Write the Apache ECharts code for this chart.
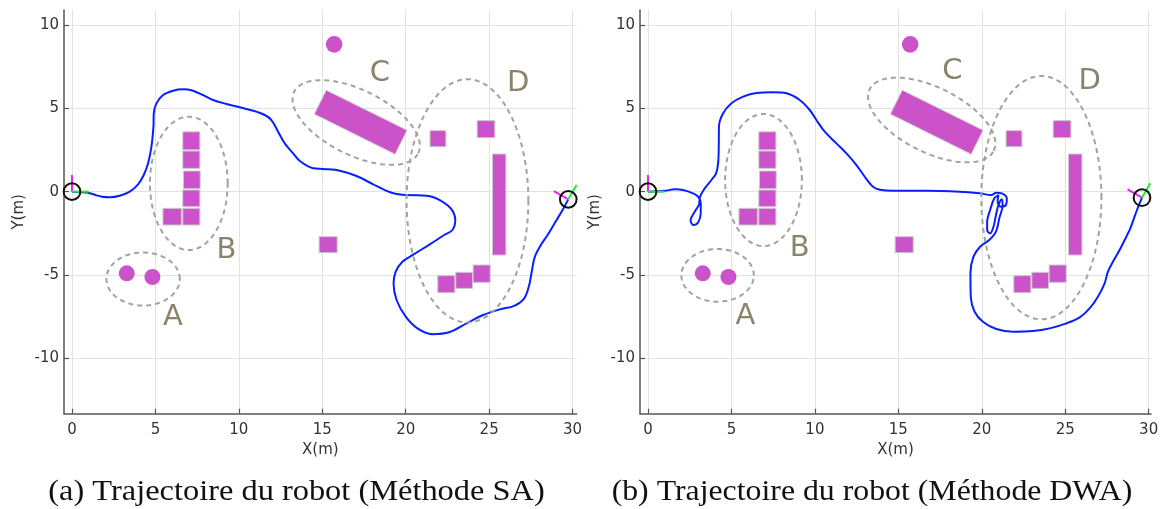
<!DOCTYPE html>
<html><head><meta charset="utf-8">
<script src="https://cdn.jsdelivr.net/npm/echarts@6/dist/echarts.min.js"></script>
<style>html,body{margin:0;padding:0;background:#fff}#c{width:1162px;height:509px}</style>
</head><body><div id="c"></div>
<script>
// ---------- data ----------
const xTicks = [0, 5, 10, 15, 20, 25, 30];
const yTicks = [-10, -5, 0, 5, 10];
const captions = ['(a) Trajectoire du robot (Méthode SA)', '(b) Trajectoire du robot (Méthode DWA)'];
const axisNames = ['X(m)', 'Y(m)'];

// rectangular obstacles: [cx, cy, width, height, angleDeg]
const rectObstacles = [
  [7.15, 3.05, 1.02, 1.08, 0], [7.15, 1.92, 1.02, 1.04, 0], [7.18, 0.71, 1.0, 1.06, 0],
  [7.15, -0.4, 1.02, 1.0, 0], [7.15, -1.5, 1.02, 1.0, 0], [6.0, -1.5, 1.1, 1.0, 0],
  [17.3, 4.17, 5.4, 1.6, -26.4],
  [21.93, 3.18, 0.95, 0.96, 0], [24.81, 3.75, 1.06, 1.02, 0], [25.6, -0.77, 0.8, 6.06, 0],
  [15.35, -3.18, 1.08, 0.96, 0],
  [22.43, -5.55, 1.02, 1.02, 0], [23.5, -5.32, 1.0, 0.96, 0], [24.55, -4.92, 1.02, 1.04, 0]
];
// circular obstacles: [cx, cy, r]
const circleObstacles = [[3.28, -4.9, 0.48], [4.82, -5.12, 0.48], [15.71, 8.84, 0.5]];

// annotation ellipses: [cx, cy, semiA, semiB, angleDeg]
const ellipsesSA = [[4.26, -5.24, 2.2, 1.59, 0], [7.0, 0.5, 2.33, 4.0, 0], [17.03, 4.15, 4.15, 1.95, -26.4], [23.7, -0.55, 3.65, 7.3, 0]];
const ellipsesDWA = [[4.17, -5.02, 2.17, 1.58, 0], [6.92, 0.7, 2.3, 3.96, 0], [17.0, 4.3, 4.15, 1.95, -26.4], [23.57, -0.36, 3.6, 7.3, 0]];
// annotation letters: [x, y, text]
const lettersSA = [[6.05, -7.54, 'A'], [9.26, -3.5, 'B'], [18.45, 7.1, 'C'], [26.74, 6.5, 'D']];
const lettersDWA = [[5.84, -7.46, 'A'], [9.09, -3.4, 'B'], [18.24, 7.2, 'C'], [26.46, 6.6, 'D']];

// robot poses: [x, y, headingDeg]
const posesSA = [[0, 0, 0], [29.74, -0.46, 60]];
const posesDWA = [[0, 0, 0], [29.6, -0.36, 60]];

const pathSA = [[0,0],[0.5,-0.03],[0.96,-0.06],[1.4,-0.2],[1.8,-0.3],[2.26,-0.33],[2.86,-0.24],[3.46,0],[3.96,0.44],[4.3,1.0],[4.56,1.7],[4.76,2.7],[4.88,3.9],[4.9,4.7],[5.06,5.3],[5.46,5.8],[6.06,6.06],[6.65,6.14],[7.25,6.06],[7.85,5.8],[8.45,5.5],[9.26,5.26],[10.05,5.06],[10.85,4.86],[11.55,4.6],[11.95,4.3],[12.35,3.6],[12.75,2.9],[13.25,2.3],[13.65,1.84],[14.45,1.4],[15.05,1.36],[16.05,1.26],[17.05,0.94],[18.05,0.44],[18.85,0.05],[19.45,-0.14],[20.05,-0.2],[20.8,-0.22],[21.45,-0.28],[22.04,-0.5],[22.54,-0.85],[22.84,-1.2],[22.97,-1.7],[22.8,-2.3],[22.3,-2.6],[21.85,-2.9],[21.3,-3.25],[20.5,-3.75],[19.8,-4.2],[19.4,-4.8],[19.27,-5.5],[19.45,-6.5],[20.0,-7.5],[20.7,-8.2],[21.6,-8.55],[22.64,-8.42],[23.64,-7.9],[24.64,-7.4],[25.64,-7.06],[26.5,-6.85],[27.1,-6.4],[27.4,-5.6],[27.55,-4.8],[27.74,-3.9],[28.1,-3.2],[28.5,-2.6],[29.04,-1.7],[29.4,-1.1],[29.74,-0.46]];

const pathDWA = [[0,0],[0.5,0.02],[1.0,0.05],[1.6,0.14],[2.1,0.1],[2.7,-0.1],[3.0,-0.3],[3.16,-0.7],[3.16,-1.3],[3.0,-1.85],[2.72,-2.0],[2.55,-1.72],[2.8,-1.2],[3.05,-0.8],[3.12,-0.3],[3.4,0.2],[3.8,0.7],[4.08,1.1],[4.2,1.7],[4.24,2.7],[4.25,3.9],[4.5,4.7],[5.0,5.3],[5.7,5.7],[6.5,5.92],[7.5,5.96],[8.3,5.9],[9.09,5.5],[9.69,4.9],[10.09,4.3],[10.59,3.6],[11.29,2.9],[11.89,2.3],[12.49,1.6],[13.09,0.75],[13.48,0.3],[13.9,0.12],[14.68,0.06],[16.68,0.06],[18.68,0.0],[19.87,-0.1],[20.57,-0.2],[20.87,-0.06],[21.2,-0.1],[21.5,-0.4],[21.45,-0.8],[21.15,-0.9],[20.95,-0.6],[21.0,-0.2],[20.75,-0.4],[20.5,-1.1],[20.32,-1.8],[20.32,-2.3],[20.5,-2.5],[20.7,-2.1],[20.85,-1.4],[21.0,-0.8],[21.2,-0.45],[21.25,-0.8],[21.05,-1.6],[20.85,-2.4],[20.45,-2.9],[19.9,-3.3],[19.5,-3.9],[19.32,-4.9],[19.34,-6.3],[19.57,-7.2],[20.07,-7.8],[20.87,-8.24],[21.87,-8.4],[23.07,-8.36],[24.07,-8.2],[25.07,-7.9],[25.87,-7.54],[26.46,-7.0],[26.96,-6.3],[27.36,-5.5],[27.56,-4.8],[27.86,-4.2],[28.26,-3.5],[28.66,-2.7],[28.9,-2.2],[29.3,-1.1],[29.6,-0.36]];

// ---------- styling / rendering ----------
const OBST = '#cb52c8';
const ANNOT_LINE = '#9ca69a';
const ANNOT_TEXT = '#8b846a';
const PATH_COLOR = '#0a1eff';
const ROBOT_R = 0.5;

function rectItem(params, api) {
  const cx = api.value(0), cy = api.value(1), w = api.value(2), h = api.value(3), a = api.value(4) * Math.PI / 180;
  const c = Math.cos(a), s = Math.sin(a);
  const pts = [[-w/2,-h/2],[w/2,-h/2],[w/2,h/2],[-w/2,h/2]].map(([u, v]) => api.coord([cx + u*c - v*s, cy + u*s + v*c]));
  return { type: 'polygon', shape: { points: pts }, style: { fill: OBST, stroke: '#c9c9c9', lineWidth: 1 } };
}
function circleItem(params, api) {
  const p = api.coord([api.value(0), api.value(1)]);
  const r = api.size([api.value(2), 0])[0];
  return { type: 'circle', shape: { cx: p[0], cy: p[1], r: r }, style: { fill: OBST } };
}
function ellipseItem(params, api) {
  const cx = api.value(0), cy = api.value(1), A = api.value(2), B = api.value(3), t = api.value(4) * Math.PI / 180;
  const c = Math.cos(t), s = Math.sin(t);
  const pts = [];
  for (let i = 0; i <= 120; i++) {
    const ang = i / 120 * Math.PI * 2;
    const u = A * Math.cos(ang), v = B * Math.sin(ang);
    pts.push(api.coord([cx + u*c - v*s, cy + u*s + v*c]));
  }
  return { type: 'polyline', shape: { points: pts }, style: { fill: null, stroke: ANNOT_LINE, lineWidth: 2, lineDash: [5, 4] } };
}
function letterItem(params, api) {
  const p = api.coord([api.value(0), api.value(1)]);
  return { type: 'text', x: p[0], y: p[1], style: { text: api.value(2), fill: ANNOT_TEXT, fontSize: 29, fontFamily: 'DejaVu Sans', align: 'center', verticalAlign: 'middle' } };
}
function robotItem(params, api) {
  const x = api.value(0), y = api.value(1), h = api.value(2) * Math.PI / 180;
  const p0 = api.coord([x, y]);
  const pg = api.coord([x + Math.cos(h), y + Math.sin(h)]);
  const pm = api.coord([x - Math.sin(h), y + Math.cos(h)]);
  const r = api.size([ROBOT_R, 0])[0];
  return { type: 'group', children: [
    { type: 'line', shape: { x1: p0[0], y1: p0[1], x2: pm[0], y2: pm[1] }, style: { stroke: '#f020f0', lineWidth: 2 } },
    { type: 'line', shape: { x1: p0[0], y1: p0[1], x2: pg[0], y2: pg[1] }, style: { stroke: '#22ee22', lineWidth: 2 } },
    { type: 'circle', shape: { cx: p0[0], cy: p0[1], r: r }, style: { fill: null, stroke: '#111', lineWidth: 2 } }
  ] };
}

function xAxisDef(i, max) {
  return {
    type: 'value', gridIndex: i, min: -0.48, max: max,
    name: axisNames[0], nameLocation: 'middle', nameGap: 29,
    nameTextStyle: { fontSize: 15, color: '#333', fontFamily: 'DejaVu Sans' },
    axisLine: { show: true, onZero: false, lineStyle: { color: '#555', width: 1.5 } },
    axisTick: { show: true, inside: true, length: 5, customValues: xTicks, lineStyle: { color: '#555', width: 1.2 } },
    axisLabel: { customValues: xTicks, fontSize: 15, color: '#333', fontFamily: 'DejaVu Sans', margin: 9 },
    splitLine: { show: true, lineStyle: { color: '#e2e2e2', width: 1 } }
  };
}
function yAxisDef(i) {
  return {
    type: 'value', gridIndex: i, min: -13.32, max: 10.9,
    name: axisNames[1], nameLocation: 'middle', nameGap: 37,
    nameTextStyle: { fontSize: 15, color: '#333', fontFamily: 'DejaVu Sans' },
    axisLine: { show: true, onZero: false, lineStyle: { color: '#555', width: 1.5 } },
    axisTick: { show: true, inside: true, length: 5, customValues: yTicks, lineStyle: { color: '#555', width: 1.2 } },
    axisLabel: { customValues: yTicks, fontSize: 15, color: '#333', fontFamily: 'DejaVu Sans', margin: 5 },
    splitLine: { show: true, lineStyle: { color: '#e2e2e2', width: 1 } }
  };
}

function panelSeries(i, ellipses, letters, path, poses) {
  return [
    { type: 'custom', xAxisIndex: i, yAxisIndex: i, renderItem: rectItem, data: rectObstacles, encode: { x: 0, y: 1 }, z: 2, silent: true },
    { type: 'custom', xAxisIndex: i, yAxisIndex: i, renderItem: circleItem, data: circleObstacles, encode: { x: 0, y: 1 }, z: 2, silent: true },
    { type: 'line', xAxisIndex: i, yAxisIndex: i, data: path, showSymbol: false, smooth: 0.35, lineStyle: { color: PATH_COLOR, width: 2 }, z: 3, silent: true },
    { type: 'custom', xAxisIndex: i, yAxisIndex: i, renderItem: ellipseItem, data: ellipses, encode: { x: 0, y: 1 }, z: 4, silent: true },
    { type: 'custom', xAxisIndex: i, yAxisIndex: i, renderItem: letterItem, data: letters, encode: { x: 0, y: 1 }, z: 4, silent: true },
    { type: 'custom', xAxisIndex: i, yAxisIndex: i, renderItem: robotItem, data: poses, encode: { x: 0, y: 1 }, z: 5, silent: true }
  ];
}

const chart = echarts.init(document.getElementById('c'), null, { renderer: 'canvas' });
chart.setOption({
  animation: false,
  backgroundColor: '#fff',
  grid: [
    { left: 64, top: 10, width: 512.6, height: 403.7 },
    { left: 640, top: 10, width: 511, height: 403.7 }
  ],
  xAxis: [xAxisDef(0, 30.24), xAxisDef(1, 30.14)],
  yAxis: [yAxisDef(0), yAxisDef(1)],
  series: [].concat(
    panelSeries(0, ellipsesSA, lettersSA, pathSA, posesSA),
    panelSeries(1, ellipsesDWA, lettersDWA, pathDWA, posesDWA)
  ),
  graphic: [
    { type: 'text', x: 296.5, y: 492, scaleX: 1.08, style: { text: captions[0], font: '30px "Liberation Serif"', fill: '#111', align: 'center', verticalAlign: 'middle' } },
    { type: 'text', x: 872, y: 492, scaleX: 1.06, style: { text: captions[1], font: '30px "Liberation Serif"', fill: '#111', align: 'center', verticalAlign: 'middle' } }
  ]
});
</script></body></html>
